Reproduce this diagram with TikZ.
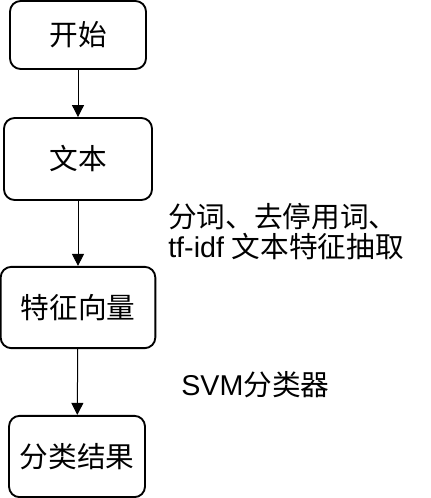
\documentclass[tikz,border=0pt]{standalone}
\usepackage{fontspec}
\setmainfont{Liberation Sans}
\newfontfamily\cjk{Noto Sans CJK SC}
\usetikzlibrary{positioning,arrows.meta}

\begin{document}
\begin{tikzpicture}[x=0.75pt, y=-0.75pt,
        kuang/.style={rectangle, rounded corners=8pt, draw, line width=1.4pt,
            align=center, font=\cjk\fontsize{21.5}{25}\selectfont},
        jiantou/.style={-{Triangle[length=9pt,width=9pt]}, line width=0.75pt},
        shuoming/.style={font=\fontsize{21.5}{22.5}\selectfont, inner sep=0pt,
            align=left, anchor=west}
    ]
        \useasboundingbox (0,0) rectangle (430,498);

        \node[kuang, minimum width=102pt, minimum height=51pt] (kaishi) at (78, 35) {开始};
        \node[kuang, minimum width=111pt, minimum height=61.5pt] (wenben) at (78, 159) {文本};
        \node[kuang, minimum width=116pt, minimum height=61pt] (tezheng) at (78, 307.5) {特征向量};
        \node[kuang, minimum width=102pt, minimum height=61pt] (jieguo) at (77, 456.5) {分类结果};

        \draw[jiantou] (kaishi) -- (wenben);
        \draw[jiantou] (wenben) -- (tezheng);
        \draw[jiantou] (tezheng) -- (jieguo);

        \node[shuoming] (chuli) at (168, 232) {{\cjk 分词、去停用词、}\\tf-idf {\cjk 文本特征抽取}};
        \node[shuoming] (fenlei) at (181, 385) {SVM{\cjk 分类器}};
    \end{tikzpicture}
\end{document}
